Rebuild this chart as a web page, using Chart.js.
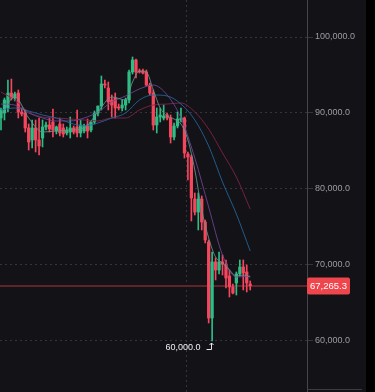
<!DOCTYPE html>
<html>
<head>
<meta charset="utf-8">
<script src="https://cdn.jsdelivr.net/npm/chart.js@4.4.1/dist/chart.umd.min.js"></script>
<style>
  html, body { margin: 0; padding: 0; background: #131217; }
  #wrap { position: relative; width: 375px; height: 392px; }
</style>
</head>
<body>
<div id="wrap"><canvas id="chart"></canvas></div>
<script>
// ============================================================
// DATA — one candle per index
// ============================================================

const opens = [
  89340, 90000, 90660, 92630, 91970, 92630, 90130, 90000, 88030, 86450,
  88030, 86450, 86710, 88160, 88420, 88820, 87630, 88550, 88030, 87370,
  87500, 88030, 88160, 87370, 87630, 88420, 87760, 88820, 90000, 90920,
  93820, 93290, 91710, 91970, 90790, 90660, 91050, 91710, 95400, 96970,
  95530, 95530, 95400, 93680, 92630, 88420, 89470, 89340, 89740, 89340,
  86840, 88290, 89080, 89340, 84610, 84210, 78680, 76970, 78680, 75660,
  73030, 63030, 70400, 69340, 70400, 70130, 68550, 67110, 67630, 68820,
  69740, 69080, 67500,
];
const highs = [
  90660, 91970, 94340, 94470, 92760, 93030, 90660, 90400, 88550, 89080,
  89080, 89340, 89080, 88820, 89340, 90530, 88290, 89340, 88550, 88160,
  89470, 88290, 90400, 89080, 88550, 89210, 88820, 90260, 90920, 94870,
  94340, 94080, 92370, 92630, 91180, 91710, 91970, 95660, 97370, 97110,
  95790, 95790, 95660, 93950, 93030, 90660, 90660, 91050, 90000, 89740,
  88680, 90130, 90660, 89470, 84870, 84470, 79470, 79470, 79080, 75920,
  73290, 71710, 70920, 71710, 71320, 70660, 69340, 67500, 69080, 70660,
  70660, 70000, 67900,
];
const lows = [
  87760, 89080, 90130, 91710, 91580, 89340, 89610, 87500, 85130, 85400,
  84870, 84470, 85530, 87760, 87500, 86840, 87240, 86970, 86840, 87110,
  86710, 87240, 86840, 86840, 87370, 86710, 87500, 88550, 89610, 90400,
  93290, 90400, 89470, 89340, 90400, 90260, 90400, 91320, 95130, 94610,
  95260, 95130, 93550, 92370, 87760, 87370, 88820, 89080, 89080, 86050,
  86450, 88030, 88820, 84080, 81180, 75790, 76580, 74610, 74610, 72900,
  62370, 60000, 68030, 68820, 68680, 66970, 65790, 66180, 66050, 68550,
  66710, 66450, 66710,
];
const closes = [
  90400, 91710, 92630, 91970, 92500, 90130, 89870, 88030, 86180, 88030,
  86450, 85660, 88160, 88420, 87900, 87760, 88160, 87370, 87240, 87760,
  88030, 87500, 87370, 88420, 88290, 87630, 88820, 90000, 90920, 93820,
  93680, 91450, 91050, 90660, 90660, 91050, 91710, 95400, 96970, 95400,
  95400, 95260, 93680, 92630, 88420, 89470, 89740, 89610, 89340, 86840,
  88290, 89210, 89340, 84740, 84210, 78820, 76970, 78680, 75660, 73290,
  63030, 70400, 69340, 70400, 70130, 68290, 67110, 66320, 68820, 69740,
  68950, 67630, 67265.3,
];

// Moving averages, sampled at candle indexes
const maFastIdx = [0, 4, 8, 12, 16, 20, 24, 28, 32, 36, 38, 40, 42, 44, 46, 48, 50, 52, 54, 56, 58, 60, 62, 64, 66, 68, 70, 72];
const maFast = [
  89740, 92110, 89340, 87500, 87630, 87760, 88030, 90130, 92110, 91710,
  94080, 95530, 95390, 93030, 90660, 89610, 89210, 88550, 86450, 82500,
  77240, 73550, 71050, 70260, 69340, 68550, 68680, 68420,
];
const maIdx = [0, 4, 8, 12, 16, 20, 24, 28, 32, 36, 40, 44, 48, 52, 56, 60, 64, 68, 72];
const maMid = [91180, 91050, 90000, 89340, 88950, 88950, 89340, 90130, 91450, 92240, 93160, 93680, 92370, 89340, 84080, 77630, 71320, 68420, 68550];
const maLong = [90400, 90660, 90260, 89740, 89340, 88680, 88290, 88680, 89340, 90000, 91710, 92370, 92240, 91180, 89080, 85660, 80920, 76710, 71840];
const maSlow = [92760, 91710, 90130, 89470, 89340, 89210, 89080, 88950, 89340, 89340, 90390, 91050, 91180, 91320, 90130, 87890, 84740, 81580, 77370];

// Axis ticks
const yTicks = [60000, 70000, 80000, 90000, 100000];
const xTicks = [53.62];

// ============================================================
// STYLE
// ============================================================

const BG = '#131217';
const UP = '#2dbd85';
const DOWN = '#f6465d';
const GRID = '#34343b';
const FONT = "'Liberation Sans', Arial, sans-serif";

const fmtPrice = v => Number(v).toLocaleString('en-US', { minimumFractionDigits: 1, maximumFractionDigits: 1 });

const candleColors = closes.map((c, i) => (c >= opens[i] ? UP : DOWN));
const lastPrice = closes[closes.length - 1];
const lowValue = Math.min(...lows);
const lowIndex = lows.indexOf(lowValue);

const toPoints = (xs, ys) => xs.map((x, k) => ({ x, y: ys[k] }));

function maDataset(label, xs, ys, color) {
  return {
    type: 'line',
    label,
    data: toPoints(xs, ys),
    borderColor: color,
    borderWidth: 1,
    pointRadius: 0,
    cubicInterpolationMode: 'monotone',
    order: 1,
  };
}

// ============================================================
// PLUGIN — background, last price line/label, low marker
// ============================================================

const decor = {
  id: 'decor',
  beforeDraw(chart) {
    const { ctx, width, height } = chart;
    ctx.save();
    ctx.fillStyle = BG;
    ctx.fillRect(0, 0, width, height);
    ctx.fillStyle = '#000000';
    ctx.fillRect(366, 0, width - 366, height);
    ctx.restore();
  },
  beforeDatasetsDraw(chart) {
    const { ctx, chartArea, scales: { y } } = chart;
    const py = Math.round(y.getPixelForValue(lastPrice));
    ctx.save();
    ctx.strokeStyle = '#5e2428';
    ctx.lineWidth = 2;
    ctx.beginPath();
    ctx.moveTo(chartArea.left, py);
    ctx.lineTo(chartArea.right, py);
    ctx.stroke();
    ctx.restore();
  },
  afterDraw(chart) {
    const { ctx, chartArea, scales: { x, y } } = chart;
    ctx.save();

    // bottom line under the price axis
    ctx.strokeStyle = '#3c3c43';
    ctx.lineWidth = 1;
    ctx.beginPath();
    ctx.moveTo(chartArea.right, 389.5);
    ctx.lineTo(362, 389.5);
    ctx.stroke();

    // last price label
    const py = Math.round(y.getPixelForValue(lastPrice));
    ctx.fillStyle = '#ef454d';
    ctx.beginPath();
    ctx.roundRect(chartArea.right, py - 8.5, 43, 17, 2);
    ctx.fill();
    ctx.fillStyle = '#ffffff';
    ctx.font = `9.5px ${FONT}`;
    ctx.textAlign = 'center';
    ctx.textBaseline = 'middle';
    ctx.fillText(fmtPrice(lastPrice), chartArea.right + 21.5, py + 0.5);

    // lowest price marker
    const lx = Math.round(x.getPixelForValue(lowIndex)) - 0.5;
    const ly = Math.round(y.getPixelForValue(lowValue));
    ctx.strokeStyle = '#e8e8ea';
    ctx.lineWidth = 1;
    ctx.beginPath();
    ctx.moveTo(lx - 5, ly + 8.5);
    ctx.lineTo(lx, ly + 8.5);
    ctx.lineTo(lx, ly + 2);
    ctx.moveTo(lx - 2, ly + 4);
    ctx.lineTo(lx, ly + 2);
    ctx.lineTo(lx + 2, ly + 4);
    ctx.stroke();
    ctx.fillStyle = '#f0f0f2';
    ctx.font = `9px ${FONT}`;
    ctx.textAlign = 'right';
    ctx.textBaseline = 'middle';
    ctx.fillText(fmtPrice(lowValue), lx - 11, ly + 6.5);

    ctx.restore();
  },
};

// ============================================================
// CHART
// ============================================================

const idx = opens.map((_, i) => i);

new Chart(document.getElementById('chart'), {
  type: 'bar',
  data: {
    datasets: [
      maDataset('MA7', maFastIdx, maFast, 'rgba(100,150,140,0.85)'),
      maDataset('MA25', maIdx, maMid, 'rgba(110,70,150,0.85)'),
      maDataset('MA50', maIdx, maLong, 'rgba(35,105,160,0.85)'),
      maDataset('MA99', maIdx, maSlow, 'rgba(125,35,75,0.9)'),
      {
        label: 'body',
        data: idx.map(i => ({ x: i, y: [opens[i], closes[i]] })),
        backgroundColor: candleColors,
        barThickness: 2.6,
        minBarLength: 1,
        grouped: false,
        order: 2,
      },
      {
        label: 'wick',
        data: idx.map(i => ({ x: i, y: [lows[i], highs[i]] })),
        backgroundColor: candleColors,
        barThickness: 1,
        grouped: false,
        order: 3,
      },
    ],
  },
  options: {
    responsive: true,
    maintainAspectRatio: false,
    animation: false,
    layout: { padding: 0 },
    plugins: {
      legend: { display: false },
      tooltip: { enabled: false },
    },
    scales: {
      x: {
        type: 'linear',
        min: -0.29,
        max: 88.41,
        offset: false,
        grid: { color: GRID, drawTicks: false, offset: false },
        border: { display: false, dash: [2, 3] },
        ticks: { display: false },
        afterBuildTicks: s => { s.ticks = xTicks.map(v => ({ value: v })); },
        afterFit: s => { s.height = 0; s.paddingLeft = 0; s.paddingRight = 0; },
      },
      y: {
        position: 'right',
        min: 53289,
        max: 104868.5,
        grid: { color: GRID, tickLength: 6 },
        border: { display: true, color: '#45454c', dash: [2, 3] },
        ticks: {
          color: '#9c9ca4',
          font: { size: 9, family: FONT },
          padding: 2,
          autoSkip: false,
          callback: v => fmtPrice(v),
        },
        afterBuildTicks: s => { s.ticks = yTicks.map(v => ({ value: v })); },
        afterFit: s => { s.width = 68; s.paddingTop = 0; s.paddingBottom = 0; },
      },
    },
  },
  plugins: [decor],
});
</script>
</body>
</html>
